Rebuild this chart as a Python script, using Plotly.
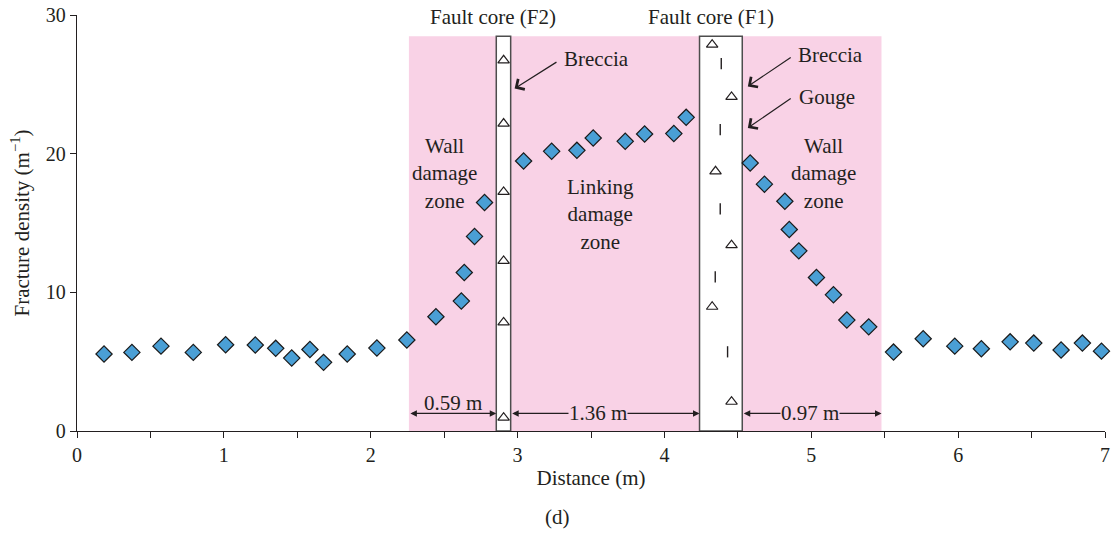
import plotly.graph_objects as go

# Fracture density profile (diamonds)
dist = [0.184, 0.374, 0.572, 0.792, 1.012, 1.214, 1.353, 1.462, 1.586, 1.679, 1.84, 2.042,
        2.246, 2.444, 2.617, 2.637, 2.707, 2.775,
        3.041, 3.232, 3.404, 3.515, 3.733, 3.865, 4.064, 4.148,
        4.584, 4.681, 4.82, 4.85, 4.915, 5.035, 5.151, 5.242, 5.391,
        5.56, 5.762, 5.977, 6.158, 6.354, 6.515, 6.701, 6.846, 6.976]
density = [5.55, 5.67, 6.12, 5.67, 6.22, 6.2, 5.96, 5.26, 5.88, 4.95, 5.55, 5.98,
           6.56, 8.24, 9.37, 11.43, 14.03, 16.48,
           19.47, 20.17, 20.24, 21.13, 20.89, 21.42, 21.45, 22.62,
           19.33, 17.8, 16.57, 14.53, 12.99, 11.07, 9.82, 8.0, 7.51,
           5.69, 6.65, 6.12, 5.93, 6.43, 6.34, 5.84, 6.34, 5.76]

# Fault core symbols (breccia triangles, gouge dashes)
f2_breccia_x = [2.905, 2.905, 2.905, 2.905, 2.905, 2.905]
f2_breccia_y = [26.73, 22.17, 17.24, 12.27, 7.83, 0.96]
f1_breccia_x = [4.325, 4.457, 4.348, 4.457, 4.325, 4.457]
f1_breccia_y = [27.86, 24.09, 18.73, 13.4, 8.96, 2.11]
f1_gouge_x = [4.387, 4.380, 4.380, 4.346, 4.430]
f1_gouge_y = [26.49, 21.73, 16.02, 11.12, 5.71]

# Zones
damage_zone = [2.26, 5.478]
core_f2 = [2.855, 2.953]
core_f1 = [4.239, 4.53]
zone_top = 28.46
x_ticks = [0, 1, 2, 3, 4, 5, 6, 7]
y_ticks = [0, 10, 20, 30]

PINK = "#f9d2e6"
BLUE = "#4a9fd5"
FONT = "Liberation Serif"
TXT = "#231f20"
FS = 21

fig = go.Figure()

fig.add_shape(type="rect", x0=damage_zone[0], x1=damage_zone[1], y0=0, y1=zone_top,
              fillcolor=PINK, line_width=0, layer="below")
for c in (core_f2, core_f1):
    fig.add_shape(type="rect", x0=c[0], x1=c[1], y0=0, y1=zone_top,
                  fillcolor="white", line=dict(color="#4d4d4d", width=1.5), layer="below")

fig.add_trace(go.Scatter(x=dist, y=density, mode="markers",
                         marker=dict(symbol="diamond", size=12.5, color=BLUE,
                                     line=dict(color="#1a1a1a", width=1.2)),
                         showlegend=False, cliponaxis=False))
fig.add_trace(go.Scatter(x=f2_breccia_x + f1_breccia_x, y=f2_breccia_y + f1_breccia_y,
                         mode="markers",
                         marker=dict(symbol="triangle-up-open", size=10, color="#231f20",
                                     line=dict(width=1.2)),
                         showlegend=False))
fig.add_trace(go.Scatter(x=f1_gouge_x, y=f1_gouge_y, mode="markers",
                         marker=dict(symbol="line-ns", size=8, color="#231f20",
                                     line=dict(color="#231f20", width=1.4)),
                         showlegend=False))

ann = []
def txt(x, y, s, size=FS, **kw):
    d = dict(x=x, y=y, text=s, showarrow=False, font=dict(family=FONT, size=size, color=TXT))
    d.update(kw)
    ann.append(d)

txt(2.83, 29.85, "Fault core (F2)")
txt(4.314, 29.85, "Fault core (F1)")
txt(2.503, 18.6, "Wall<br>damage<br>zone")
txt(3.563, 15.6, "Linking<br>damage<br>zone")
txt(5.083, 18.6, "Wall<br>damage<br>zone")

# Breccia / Gouge pointer arrows
def pointer(label, tx, ty, x0, y0, x1, y1):
    ann.append(dict(x=x1, y=y1, ax=x0, ay=y0, xref="x", yref="y", axref="x", ayref="y",
                    text="", showarrow=True, arrowhead=4, arrowsize=2.0, arrowwidth=1.2,
                    arrowcolor=TXT))
    txt(tx, ty, label, xanchor="center")

pointer("Breccia", 3.539, 26.8, 3.275, 26.67, 2.98, 24.7)
pointer("Breccia", 5.131, 27.15, 4.87, 27.0, 4.568, 24.85)
pointer("Gouge", 5.11, 24.1, 4.87, 24.05, 4.568, 21.85)

# Width measurement arrows
arrow_y = 1.27
for (a, b, label, lx, ly, bg) in [(damage_zone[0], core_f2[0], "0.59 m", 2.56, 2.0, None),
                                  (core_f2[1], core_f1[0], "1.36 m", 3.547, arrow_y, PINK),
                                  (core_f1[1], damage_zone[1], "0.97 m", 4.99, arrow_y, PINK)]:
    ann.append(dict(x=b, y=arrow_y, ax=a, ay=arrow_y, xref="x", yref="y", axref="x", ayref="y",
                    text="", showarrow=True, arrowhead=2, startarrowhead=2, arrowside="end+start",
                    arrowsize=1.0, startarrowsize=1.0, arrowwidth=1.3, arrowcolor=TXT))
    if bg is None:
        txt(lx, ly, label)
    else:
        txt(lx, ly, label, bgcolor=bg, borderpad=0)

ann.append(dict(x=0.467, y=-0.206, xref="paper", yref="paper", text="(d)", showarrow=False,
                xanchor="center", yanchor="middle",
                font=dict(family=FONT, size=FS, color=TXT)))

fig.update_layout(
    width=1115, height=535, margin=dict(l=77, r=10, t=15, b=104),
    paper_bgcolor="white", plot_bgcolor="white",
    annotations=ann, showlegend=False,
    font=dict(family=FONT, size=FS, color=TXT),
)
fig.update_xaxes(range=[0, 7], tickvals=x_ticks, showgrid=False, zeroline=False, automargin=False,
                 showline=True, linecolor="#231f20", linewidth=1.3,
                 ticks="outside", ticklen=6, tickwidth=1.2, tickcolor="#231f20",
                 minor=dict(dtick=0.5, ticks="outside", ticklen=6, tickwidth=1.2, tickcolor="#231f20"),
                 tickfont=dict(family=FONT, size=20, color=TXT),
                 title=dict(text="Distance (m)", font=dict(family=FONT, size=FS, color=TXT), standoff=5))
fig.update_yaxes(range=[0, 30], tickvals=y_ticks, showgrid=False, zeroline=False, automargin=False,
                 showline=True, linecolor="#231f20", linewidth=1.3,
                 ticks="outside", ticklen=6, tickwidth=1.2, tickcolor="#231f20",
                 tickfont=dict(family=FONT, size=20, color=TXT),
                 title=dict(text="Fracture density (m<sup>−1</sup>)", font=dict(family=FONT, size=FS, color=TXT), standoff=10))

fig.write_html("out.html")
